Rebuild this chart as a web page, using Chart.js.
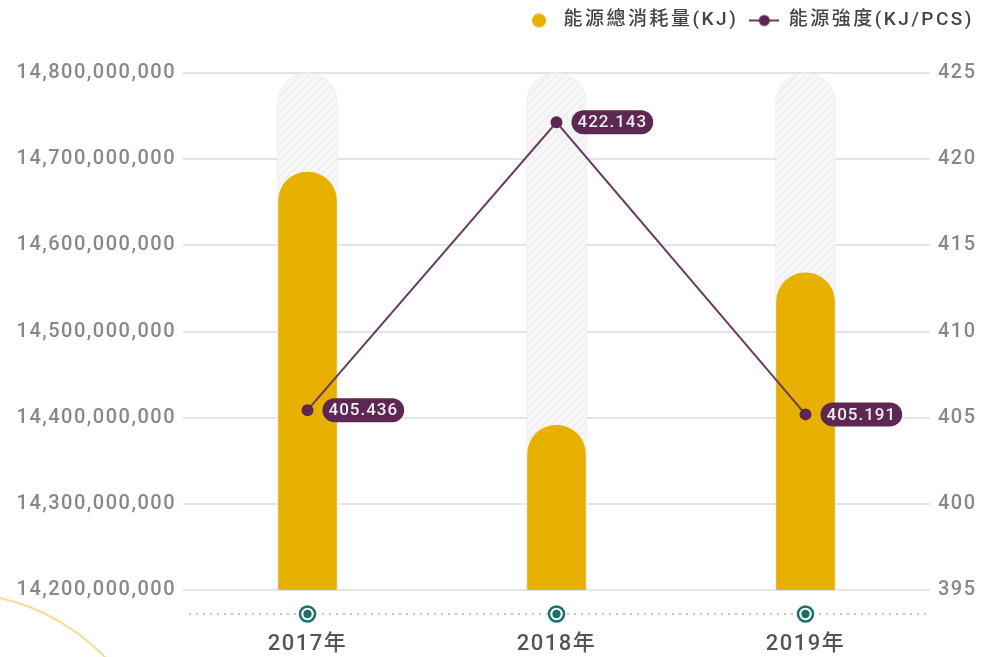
<!DOCTYPE html>
<html>
<head>
<meta charset="utf-8">
<script src="https://cdn.jsdelivr.net/npm/chart.js@4"></script>
<style>
  html, body { margin: 0; padding: 0; background: #fff; }
  #wrap { width: 985px; height: 657px; position: relative; }
</style>
</head>
<body>
<div id="wrap"><canvas id="energyChart"></canvas></div>
<script>
const years = ['2017年', '2018年', '2019年']
const totalEnergy = [14685000000, 14391000000, 14568000000]   // 能源總消耗量(KJ)
const intensity = [405.436, 422.143, 405.191]                 // 能源強度(KJ/PCS)
const leftMin = 14200000000
const leftMax = 14800000000
const rightMin = 395
const rightMax = 425

const gold = '#e8b000'
const plum = '#5c2751'
const teal = '#1c706c'
const fontFamily = "Roboto, 'Liberation Sans', 'Noto Sans CJK TC', sans-serif"

// background "track" behind each bar reaches the top of the left axis
const trackVals = years.map(() => leftMax)

function makeHatch() {
    const c = document.createElement('canvas')
    c.width = 8; c.height = 8
    const g = c.getContext('2d')
    g.fillStyle = '#f7f7f7'
    g.fillRect(0, 0, 8, 8)
    g.strokeStyle = '#ebebeb'
    g.lineWidth = 1.1
    g.beginPath()
    g.moveTo(0, 8); g.lineTo(8, 0)
    g.moveTo(-2, 2); g.lineTo(2, -2)
    g.moveTo(6, 10); g.lineTo(10, 6)
    g.stroke()
    return g.createPattern(c, 'repeat')
}

function legendDot() {
    const c = document.createElement('canvas')
    c.width = 16; c.height = 16
    const g = c.getContext('2d')
    g.fillStyle = gold
    g.beginPath(); g.arc(8, 8, 7, 0, Math.PI * 2); g.fill()
    return c
}

function legendLine() {
    const c = document.createElement('canvas')
    c.width = 30; c.height = 14
    const g = c.getContext('2d')
    g.strokeStyle = '#6b3a60'
    g.lineWidth = 2
    g.beginPath(); g.moveTo(0, 7); g.lineTo(30, 7); g.stroke()
    g.fillStyle = plum
    g.beginPath(); g.arc(15, 7, 5.5, 0, Math.PI * 2); g.fill()
    return c
}

const spacingPlugin = {
    id: 'spacing',
    beforeUpdate(chart) { chart.ctx.letterSpacing = '1.5px' },
    beforeDraw(chart) { chart.ctx.letterSpacing = '1.5px' },
    afterLayout(chart) {
        // pin legend height and give its text wider spacing, like the reference
        const lg = chart.legend
        if (lg && !lg._pinned) {
            const origFit = lg.fit
            const origDraw = lg.draw
            lg.fit = function () {
                chart.ctx.letterSpacing = '2.5px'
                origFit.call(this)
                chart.ctx.letterSpacing = '1.5px'
                this.height = 73
            }
            lg.draw = function () {
                chart.ctx.letterSpacing = '2.5px'
                origDraw.call(this)
                chart.ctx.letterSpacing = '1.5px'
            }
            lg._pinned = true
            chart.update()
        }
    }
}

const decoPlugin = {
    id: 'deco',
    beforeDraw(chart) {
        // soft yellow arc in the bottom-left corner
        const ctx = chart.ctx
        ctx.save()
        ctx.strokeStyle = '#f6dc92'
        ctx.lineWidth = 2
        ctx.beginPath()
        ctx.moveTo(0, 598)
        ctx.quadraticCurveTo(62, 612, 110, 662)
        ctx.stroke()
        ctx.restore()
    },
    afterDraw(chart) {
        const ctx = chart.ctx
        const xs = chart.scales.x
        const area = chart.chartArea
        const y = area.bottom + 24
        ctx.save()
        // dotted baseline
        ctx.strokeStyle = '#c4c4c4'
        ctx.lineWidth = 2
        ctx.setLineDash([2, 5])
        ctx.beginPath()
        ctx.moveTo(area.left + 6, y)
        ctx.lineTo(area.right, y)
        ctx.stroke()
        ctx.setLineDash([])
        // teal markers at each year
        years.forEach((_, i) => {
            const x = xs.getPixelForTick(i)
            ctx.fillStyle = '#fff'
            ctx.beginPath(); ctx.arc(x, y, 9, 0, Math.PI * 2); ctx.fill()
            ctx.strokeStyle = teal
            ctx.lineWidth = 2.5
            ctx.beginPath(); ctx.arc(x, y, 7.5, 0, Math.PI * 2); ctx.stroke()
            ctx.fillStyle = teal
            ctx.beginPath(); ctx.arc(x, y, 4.2, 0, Math.PI * 2); ctx.fill()
        })
        ctx.restore()
    },
    afterDatasetsDraw(chart) {
        // value pills next to each intensity point
        const ctx = chart.ctx
        const meta = chart.getDatasetMeta(2)
        ctx.save()
        ctx.font = '500 17px ' + fontFamily
        ctx.letterSpacing = '1px'
        ctx.textBaseline = 'middle'
        ctx.textAlign = 'left'
        meta.data.forEach((pt, i) => {
            const txt = intensity[i].toFixed(3)
            const w = ctx.measureText(txt).width + 12
            const h = 24
            const x0 = pt.x + 15
            ctx.fillStyle = plum
            ctx.beginPath()
            ctx.roundRect(x0, pt.y - h / 2, w, h, h / 2)
            ctx.fill()
            ctx.fillStyle = '#f4edf2'
            ctx.fillText(txt, x0 + 6, pt.y + 1)
        })
        ctx.restore()
    }
}

const energyChart = new Chart(document.getElementById('energyChart'), {
    data: {
        labels: years,
        datasets: [{
            type: 'bar',
            label: '',
            data: trackVals,
            yAxisID: 'y',
            order: 3,
            grouped: false,
            barThickness: 60,
            backgroundColor: makeHatch(),
            borderColor: '#ededed',
            borderWidth: 1,
            borderSkipped: 'bottom',
            borderRadius: { topLeft: 30, topRight: 30 }
        }, {
            type: 'bar',
            label: '能源總消耗量(KJ)',
            data: totalEnergy,
            yAxisID: 'y',
            order: 2,
            grouped: false,
            barThickness: 58,
            backgroundColor: gold,
            borderSkipped: 'bottom',
            borderRadius: { topLeft: 29, topRight: 29 }
        }, {
            type: 'line',
            label: '能源強度(KJ/PCS)',
            data: intensity,
            yAxisID: 'y1',
            order: 1,
            borderColor: '#6b3a60',
            borderWidth: 2,
            pointRadius: 5,
            pointBackgroundColor: plum,
            pointBorderColor: plum,
            tension: 0
        }]
    },
    options: {
        responsive: true,
        maintainAspectRatio: false,
        animation: false,
        layout: { padding: 0 },
        plugins: {
            tooltip: { enabled: false },
            legend: {
                position: 'top',
                align: 'end',
                labels: {
                    usePointStyle: true,
                    pointStyleWidth: 30,
                    boxHeight: 14,
                    padding: 11,
                    color: '#444',
                    font: { family: fontFamily, size: 19, weight: 500 },
                    generateLabels(chart) {
                        return [
                            { text: '能源總消耗量(KJ)', pointStyle: legendDot(), fillStyle: gold, strokeStyle: gold, lineWidth: 0, datasetIndex: 1, fontColor: '#444' },
                            { text: '能源強度(KJ/PCS)', pointStyle: legendLine(), fillStyle: plum, strokeStyle: plum, lineWidth: 0, datasetIndex: 2, fontColor: '#444' }
                        ]
                    }
                }
            }
        },
        scales: {
            x: {
                offset: true,
                grid: { display: false },
                border: { display: false },
                ticks: {
                    padding: 33,
                    color: '#555',
                    font: { family: fontFamily, size: 22, weight: 500 }
                },
                afterFit(scale) { scale.height = 67 }
            },
            y: {
                position: 'left',
                min: leftMin,
                max: leftMax,
                border: { display: false },
                grid: { color: '#e4e4e4', lineWidth: 2, drawTicks: false },
                ticks: {
                    stepSize: 100000000,
                    padding: 7,
                    color: '#888',
                    font: { family: fontFamily, size: 20, weight: 500 },
                    callback: (v) => v.toLocaleString('en-US')
                },
                afterFit(scale) { scale.width = 183 }
            },
            y1: {
                position: 'right',
                min: rightMin,
                max: rightMax,
                border: { display: false },
                grid: { display: false, drawTicks: false },
                ticks: {
                    stepSize: 5,
                    padding: 8,
                    color: '#888',
                    font: { family: fontFamily, size: 20, weight: 500 }
                },
                afterFit(scale) { scale.width = 55 }
            }
        }
    },
    plugins: [spacingPlugin, decoPlugin]
});
</script>
</body>
</html>
